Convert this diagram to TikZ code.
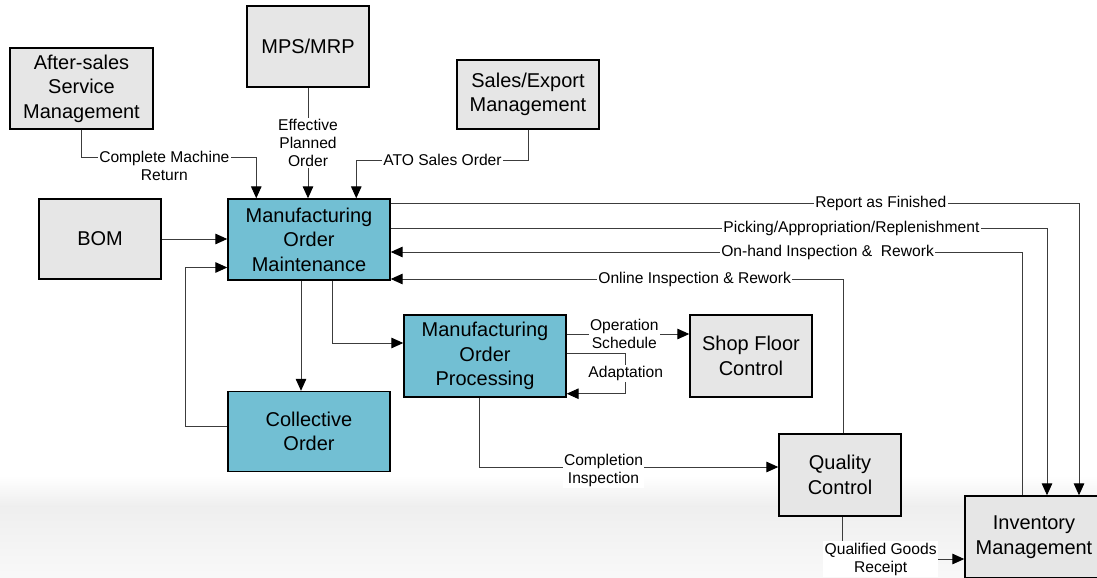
\documentclass[tikz,border=0pt]{standalone}
\usepackage{fontspec}
\setmainfont{Liberation Sans}
\usepackage{xcolor}
\usepackage{tikz}
\usetikzlibrary{positioning, arrows.meta, calc}

\definecolor{boxgray}{HTML}{E6E6E6}
\definecolor{moblue}{HTML}{72BFD3}
\definecolor{linegray}{HTML}{3C3C3C}

\begin{document}
\begin{tikzpicture}[x=0.025cm, y=-0.025cm,
        sbox/.style={draw, rectangle, line width=1pt, fill=boxgray, align=center, inner sep=0pt, font=\fontsize{14.2}{17.4}\selectfont},
        mbox/.style={sbox, fill=moblue, minimum width=4.05cm, minimum height=2.025cm},
        conn/.style={draw=linegray, line width=0.7pt, -{Triangle[length=8.5pt, width=7.5pt, color=black]}},
        lbl/.style={fill=white, inner sep=1pt, align=center, font=\fontsize{11.1}{12.8}\selectfont}
    ]

    \clip (0,0) rectangle (1097,578);

    % --- grey band at the bottom ---
    \shade[top color=white, bottom color=gray!13] (0,476) rectangle (1097,506);
    \shade[top color=gray!13, bottom color=gray!5] (0,506) rectangle (1097,578);

    % --- Upper row: feeding systems ---
    \node[sbox, minimum width=3.575cm, minimum height=2.025cm] (after) at (81.5,88.5) {After-sales\\Service\\Management};
    \node[sbox, minimum width=3.05cm, minimum height=2.025cm] (mps) at (308,46.5) {MPS/MRP};
    \node[sbox, minimum width=3.55cm, minimum height=1.725cm] (sales) at (528,94.5) {Sales/Export\\Management};

    % --- Manufacturing order boxes ---
    \node[sbox, minimum width=3.05cm, minimum height=2cm] (bom) at (100,239) {BOM};
    \node[mbox] (mom) at (309,239.5) {Manufacturing\\Order\\Maintenance};
    \node[mbox, minimum height=2.05cm] (mop) at (485,356) {Manufacturing\\Order\\Processing};
    \node[mbox, minimum height=2cm] (coll) at (309,431.5) {Collective\\Order};

    % --- Shop floor, quality, inventory ---
    \node[sbox, minimum width=3.05cm, minimum height=2.05cm] (shop) at (751,356) {Shop Floor\\Control};
    \node[sbox, minimum width=3.05cm, minimum height=2.05cm] (qc) at (840,475) {Quality\\Control};
    \node[sbox, minimum width=3.45cm, minimum height=2.05cm] (inv) at (1034,537) {Inventory\\Management};

    % --- Inputs to order maintenance ---
    \draw[conn] (after.south) |- node[lbl, pos=0.737, yshift=-6.4pt]{Complete Machine\\Return} ($(mom.north west)+(29,-41)$) -- ($(mom.north west)+(29,0)$);
    \draw[conn] (mps.south) -- node[lbl]{Effective\\Planned\\Order} (mps.south |- mom.north);
    \draw[conn] (sales.south) |- node[lbl, pos=0.749]{ATO Sales Order} ($(mom.north west)+(129,-38)$) -- ($(mom.north west)+(129,0)$);
    \draw[conn] (bom.east) -- (bom.east -| mom.west);

    % --- Order maintenance / collective order / processing ---
    \draw[conn] ($(mom.south)+(-8,0)$) -- ($(coll.north)+(-8,0)$);
    \draw[conn] ($(coll.west)+(0,-5)$) -| ($(mom.west)+(-42,28)$) -- ($(mom.west)+(0,28)$);
    \draw[conn] ($(mom.south)+(23,0)$) |- ($(mop.west)+(0,-13)$);

    % --- Processing outputs ---
    \draw[conn] ($(mop.east)+(0,-22)$) -- node[lbl, pos=0.47]{Operation\\Schedule} ($(shop.west)+(0,-22)$);
    \draw[conn] ($(mop.east)+(0,-3)$) -- ++(59,0) |- node[lbl, pos=0.25]{Adaptation} ($(mop.south east)+(0,-4)$);
    \draw[conn] ($(mop.south)+(-6,0)$) |- node[lbl, pos=0.708, yshift=-2.5pt]{Completion\\Inspection} ($(qc.west)+(0,-8)$);

    % --- Feedback into order maintenance ---
    \draw[conn] ($(qc.north)+(3,0)$) |- node[lbl, pos=0.664]{Online Inspection \& Rework} ($(mom.east)+(0,39.5)$);
    \draw[conn] ($(inv.north)+(-12,0)$) |- node[lbl, pos=0.654]{On-hand Inspection \&\ \ Rework} ($(mom.east)+(0,12.5)$);

    % --- To inventory ---
    \draw[conn] ($(mom.east)+(0,-11)$) -| node[lbl, pos=0.351]{Picking/Appropriation/Replenishment} ($(inv.north)+(13,0)$);
    \draw[conn] ($(mom.east)+(0,-36)$) -| node[lbl, pos=0.356]{Report as Finished} ($(inv.north)+(45,0)$);
    \draw[conn] ($(qc.south)+(2,0)$) |- node[lbl, pos=0.658]{Qualified Goods\\Receipt} ($(inv.west)+(0,22)$);

\end{tikzpicture}
\end{document}
